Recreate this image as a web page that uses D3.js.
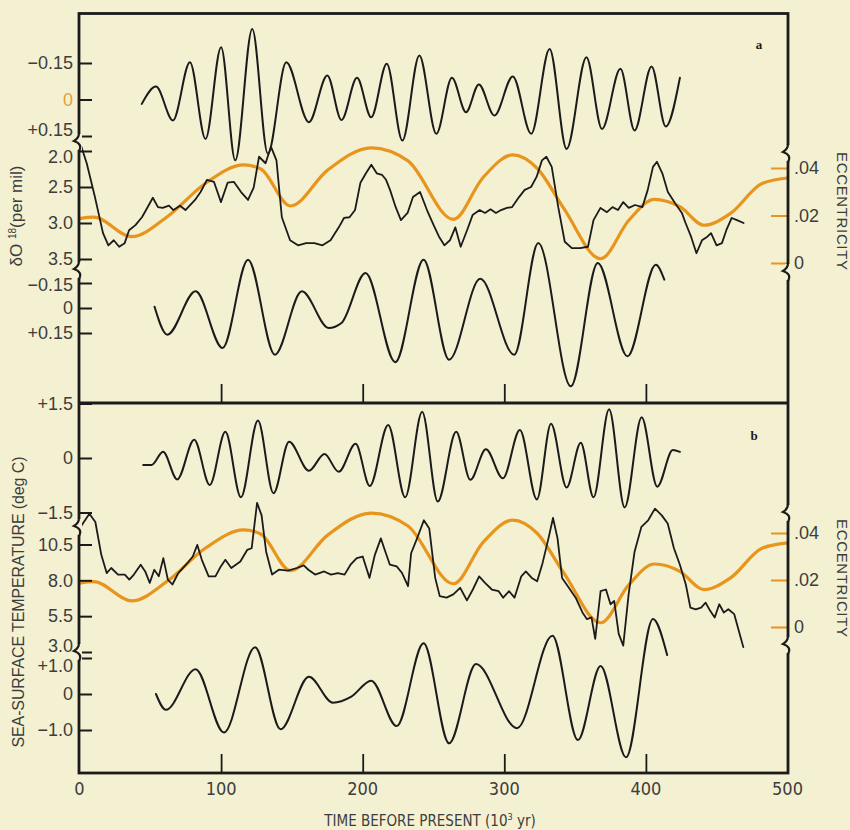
<!DOCTYPE html>
<html>
<head>
<meta charset="utf-8">
<script src="https://cdn.jsdelivr.net/npm/d3@7"></script>
<style>
  body { margin: 0; background: #f4f0d2; }
  svg { display: block; }
</style>
</head>
<body>
<svg id="chart" width="850" height="830"></svg>
<script>
// Time axis (10^3 yr before present)
const timeTicks = [0, 100, 200, 300, 400, 500];

// Panel a: filtered 23k component of d18O (per mil)
const precA = [[44,0.018],[54,-0.053],[66,0.086],[78,-0.153],[89,0.162],[100,-0.215],[110,0.25],[122,-0.29],
  [133,0.223],[146,-0.153],[162,0.093],[175,-0.099],[185,0.084],[196,-0.089],[206,0.073],[217,-0.147],
  [228,0.169],[240,-0.181],[252,0.141],[263,-0.089],[273,0.052],[282,-0.062],[293,0.066],[306,-0.095],
  [319,0.141],[332,-0.208],[344,0.203],[358,-0.174],[369,0.121],[382,-0.126],[392,0.127],[404,-0.136],
  [414,0.111],[424,-0.089]];

// Panel a: d18O record (per mil)
const d18O = [[0,1.86],[5.1,2.17],[10.9,2.64],[16.6,3.14],[20.4,3.31],[24.2,3.24],[28,3.33],[31.9,3.28],
  [35,3.10],[39.5,3.03],[44.1,2.92],[47,2.82],[51.8,2.65],[55.4,2.78],[58.7,2.79],[63.2,2.76],[66.3,2.82],
  [71,2.76],[74.8,2.82],[81.6,2.68],[85.5,2.57],[90,2.40],[95,2.43],[99.9,2.71],[104.6,2.44],[109.1,2.43],
  [114.1,2.57],[119,2.68],[123,2.51],[126.8,2.08],[131.4,2.17],[135.2,1.94],[139.1,2.13],[142.9,2.92],
  [148.7,3.24],[154.3,3.31],[160,3.28],[165.9,3.28],[171.6,3.31],[177.3,3.24],[183.1,3.06],[186.8,2.93],
  [190.7,2.92],[194.6,2.82],[198.4,2.44],[202.3,2.31],[206.1,2.19],[209.9,2.31],[213.6,2.33],[216.5,2.40],
  [219.3,2.54],[223.3,2.78],[227,2.96],[231.7,2.86],[235.5,2.64],[240.5,2.57],[245.4,2.82],[250.1,3.03],
  [253.9,3.19],[257.7,3.31],[261.6,3.24],[265.4,3.06],[269.2,3.33],[273.7,3.10],[277.6,2.89],[282.6,2.82],
  [286.4,2.86],[290.3,2.81],[294.1,2.86],[297.7,2.82],[301.8,2.79],[305.4,2.78],[310.4,2.64],[314.4,2.54],
  [318.9,2.50],[322.8,2.36],[326.6,2.13],[329.7,2.08],[333.5,2.22],[338.1,2.78],[342.7,3.26],[347.7,3.35],
  [353.5,3.35],[359.1,3.33],[363,2.96],[367.9,2.79],[372.5,2.85],[376.4,2.78],[380.3,2.82],[384,2.71],
  [387.9,2.79],[392.3,2.75],[397.5,2.78],[401.3,2.54],[405,2.22],[407.8,2.15],[411.6,2.31],[415.5,2.57],
  [420.4,2.72],[425.4,2.86],[428,3.00],[431.9,3.19],[435.7,3.42],[439.6,3.24],[443.4,3.19],[446,3.14],
  [449.9,3.31],[453.7,3.28],[456.8,3.10],[460.6,2.93],[464.3,2.96],[469,3.00]];

// Panel a: filtered 41k component of d18O
const oblA = [[53,-0.008],[62,0.16],[82,-0.10],[101,0.24],[119,-0.29],[138,0.28],[157,-0.10],[176,0.12],
  [185,0.09],[202,-0.21],[223,0.325],[243,-0.29],[261,0.31],[283,-0.175],[307,0.28],[324,-0.39],
  [347,0.47],[366,-0.27],[387,0.29],[407,-0.26],[413,-0.17]];

// Panel b: filtered 23k component of sea-surface temperature (deg C)
const precB = [[45,-0.19],[51,-0.19],[59,0.17],[69,-0.59],[81,0.50],[92,-0.74],[103,0.72],[114,-1.08],
  [126,1.03],[137,-0.97],[148,0.45],[162,-0.35],[173,0.11],[183,-0.38],[195,0.39],[205,-0.77],[218,0.91],
  [230,-1.08],[242,1.27],[253,-1.20],[266,0.72],[276,-0.60],[287,0.24],[299,-0.56],[311,0.77],[323,-1.14],
  [333,0.94],[344,-0.81],[354,0.42],[363,-1.08],[374,1.34],[385,-1.36],[397,1.12],[408,-0.79],[419,0.22],
  [424,0.17]];

// Panel b: sea-surface temperature record (deg C)
const sst = [[0,11.62],[7,12.65],[11.2,12.07],[15.4,9.78],[19.2,8.51],[22.4,8.86],[27.2,8.40],[32,8.40],
  [35.2,8.05],[38.4,8.40],[43.2,9.09],[46.4,8.62],[49.6,7.82],[52.8,8.74],[56,8.28],[59.2,9.55],[62.4,8.05],
  [65.6,7.71],[69.8,8.51],[75.2,9.09],[80,9.66],[83.2,10.47],[86.4,9.43],[91.2,8.28],[96,8.28],[99.8,8.97],
  [103,9.43],[107.2,8.86],[113.6,9.31],[118.4,10.12],[121.6,10.24],[125.4,13.41],[128.6,12.53],[131.8,10.0],
  [136,8.40],[140.8,8.74],[147.2,8.67],[153.6,8.86],[158.4,9.04],[161.6,8.74],[166.4,8.40],[172.8,8.62],
  [177.6,8.40],[182.4,8.51],[187.2,8.40],[191.4,9.09],[195.8,9.55],[200,9.66],[204.8,8.17],[208.6,9.78],
  [212.8,10.93],[216,10.0],[219.2,9.09],[224,8.97],[227.8,8.51],[232,7.59],[234.2,9.89],[238.4,10.93],
  [243.2,12.19],[247,11.62],[251.2,8.17],[254.4,6.90],[259.2,6.79],[264,7.02],[268.8,7.48],[273.6,6.60],
  [277.8,7.36],[282.2,8.28],[286.4,7.82],[291.2,7.36],[296,7.24],[299.2,6.79],[303.4,7.24],[307.2,6.79],
  [312,8.28],[315.2,8.62],[319.4,8.17],[323.2,7.93],[327,9.20],[331.2,10.93],[334.4,12.35],[337.6,10.93],
  [340.8,8.17],[345.6,7.48],[350.4,6.79],[355.2,5.76],[358.4,5.29],[361.6,5.41],[364.2,3.91],[368,7.24],
  [371.8,7.36],[375,6.33],[377.6,6.56],[380.8,4.26],[384,3.45],[387.8,7.02],[392,10.0],[396.8,11.73],
  [401.6,12.19],[406.4,13.0],[411.2,12.53],[415.4,11.96],[419.8,10.24],[424,9.09],[428.2,7.71],[431.4,6.10],
  [435.2,5.98],[439,6.10],[442.2,6.44],[445.4,5.87],[448.6,5.41],[451.8,6.33],[455,5.76],[458.2,5.98],
  [462.4,5.64],[465.6,4.49],[468.8,3.34]];

// Panel b: filtered 41k component of sea-surface temperature
const oblB = [[54,0],[61,-0.44],[82,0.69],[102,-1.07],[124,1.30],[142,-0.98],[162,0.48],[179,-0.24],
  [192,-0.07],[206,0.37],[224,-0.89],[243,1.41],[261,-1.37],[280,0.83],[309,-0.95],[334,1.62],[352,-1.28],
  [368,0.78],[386,-1.76],[405,2.08],[415,1.08]];

// Orbital eccentricity (both panels)
const ecc = [[0,0.0187],[10,0.0193],[37,0.0111],[62,0.0195],[89,0.0336],[116,0.0413],[128,0.0396],
  [149,0.024],[175,0.039],[206,0.0485],[232,0.043],[264,0.0184],[285,0.036],[306,0.0455],[323,0.040],
  [342,0.023],[368,0.0018],[388,0.018],[406,0.0268],[424,0.0237],[441,0.0159],[460,0.021],[482,0.0335],
  [500,0.0358]];

// tick values for the left / right axes
const ticksPrecA = [-0.15, 0, 0.15];
const ticksD18O = [2.0, 2.5, 3.0, 3.5];
const ticksOblA = [-0.15, 0, 0.15];
const ticksPrecB = [1.5, 0, -1.5];
const ticksSST = [10.5, 8.0, 5.5, 3.0];
const ticksOblB = [1.0, 0, -1.0];
const ticksEcc = [0, 0.02, 0.04];

const BG = '#f4f0d2';
const ORANGE = '#e8951d';
const INK = '#1b1b1b';
const LABEL = '#3d3d3d';

const svg = d3.select('#chart');
svg.append('rect').attr('width', 850).attr('height', 830).attr('fill', BG);

const L = 79, R = 788, TOP = 13.5, MID = 403, BOT = 773;

const x = d3.scaleLinear().domain([0, 500]).range([79.5, 787.5]);

const yPrecA = d3.scaleLinear([-0.15, 0.15], [63, 136]);
const yD18O = d3.scaleLinear([2.0, 3.5], [151, 259]);
const yOblA = d3.scaleLinear([-0.15, 0.15], [283, 333]);
const yEccA = d3.scaleLinear([0, 0.04], [263, 168]);
const yPrecB = d3.scaleLinear([1.5, -1.5], [403.5, 512.5]);
const ySST = d3.scaleLinear([3.0, 10.5], [652, 544.5]);
const yOblB = d3.scaleLinear([1, -1], [658, 730]);
const yEccB = d3.scaleLinear([0, 0.04], [627, 533]);

// signed labels like the original (+0.15 / −0.15)
const signed = digits => v => v === 0 ? '0' : (v > 0 ? '+' : '\u2212') + Math.abs(v).toFixed(digits);
const plain1 = v => v.toFixed(1);
const eccFmt = v => v === 0 ? '0' : '.' + String(Math.round(v * 100)).padStart(2, '0');

// ---- curves ----
function drawLine(data, yScale, color, width, curve) {
  const line = d3.line()
    .x(d => x(d[0]))
    .y(d => yScale(d[1]))
    .curve(curve);
  svg.append('path')
    .datum(data)
    .attr('d', line)
    .attr('fill', 'none')
    .attr('stroke', color)
    .attr('stroke-width', width)
    .attr('stroke-linejoin', 'round')
    .attr('stroke-linecap', 'round');
}

drawLine(ecc, yEccA, ORANGE, 3.2, d3.curveMonotoneX);
drawLine(ecc, yEccB, ORANGE, 3.2, d3.curveMonotoneX);

drawLine(precA, yPrecA, INK, 2, d3.curveMonotoneX);
drawLine(d18O, yD18O, INK, 1.8, d3.curveLinear);
drawLine(oblA, yOblA, INK, 2, d3.curveMonotoneX);
drawLine(precB, yPrecB, INK, 2, d3.curveMonotoneX);
drawLine(sst, ySST, INK, 1.8, d3.curveLinear);
drawLine(oblB, yOblB, INK, 2, d3.curveMonotoneX);

// ---- left axes ----
// shift: nudges for labels that sit on top of each other at the axis breaks
function leftAxis(scale, values, fmt, shift = {}) {
  const g = svg.append('g')
    .attr('transform', `translate(${L},0)`)
    .call(d3.axisLeft(scale).tickValues(values).tickFormat(fmt).tickSize(-13).tickPadding(6));
  g.select('.domain').remove();
  g.selectAll('.tick line').attr('stroke', INK).attr('stroke-width', 2);
  g.selectAll('.tick text')
    .attr('fill', LABEL)
    .attr('y', d => shift[d] || 0)
    .style('font-family', '"Liberation Sans", Arial, sans-serif')
    .style('font-size', '18px');
  return g;
}

const gPrecA = leftAxis(yPrecA, ticksPrecA, signed(2), {0.15: -6});
gPrecA.selectAll('.tick text').filter(d => d === 0).attr('fill', '#e3a03c');
leftAxis(yD18O, ticksD18O, plain1, {2: 6});
leftAxis(yOblA, ticksOblA, signed(2), {'-0.15': 2});
leftAxis(yPrecB, ticksPrecB, signed(1));
leftAxis(ySST, ticksSST, plain1, {3: -6});
leftAxis(yOblB, ticksOblB, signed(1), {1: 8});

// ---- right axes (eccentricity) ----
function rightAxis(scale) {
  const g = svg.append('g')
    .attr('transform', `translate(${R},0)`)
    .call(d3.axisRight(scale).tickValues(ticksEcc).tickFormat(eccFmt).tickSize(-17).tickPadding(6));
  g.select('.domain').remove();
  g.selectAll('.tick line').attr('stroke', ORANGE).attr('stroke-width', 2);
  g.selectAll('.tick text')
    .attr('fill', LABEL)
    .style('font-family', '"Liberation Sans", Arial, sans-serif')
    .style('font-size', '18px');
}
rightAxis(yEccA);
rightAxis(yEccB);

// ---- time axis ----
const inner = timeTicks.filter(t => t > 0 && t < 500);
[MID, BOT].forEach(yy => {
  const g = svg.append('g')
    .attr('transform', `translate(0,${yy})`)
    .call(d3.axisBottom(x).tickValues(inner).tickFormat('').tickSize(-19));
  g.select('.domain').remove();
  g.selectAll('.tick line').attr('stroke', INK).attr('stroke-width', 1.8);
});

svg.append('g')
  .selectAll('text')
  .data(timeTicks)
  .join('text')
  .attr('x', d => x(d))
  .attr('y', BOT + 22)
  .attr('text-anchor', 'middle')
  .attr('fill', LABEL)
  .style('font-family', '"Liberation Sans Narrow", "DejaVu Sans Condensed", sans-serif')
  .style('font-stretch', 'condensed')
  .style('font-size', '18px')
  .text(d => d);

// ---- frame ----
svg.append('rect')
  .attr('x', L).attr('y', TOP)
  .attr('width', R - L).attr('height', BOT - TOP)
  .attr('fill', 'none').attr('stroke', INK).attr('stroke-width', 2.8);
svg.append('line')
  .attr('x1', L).attr('x2', R).attr('y1', MID).attr('y2', MID)
  .attr('stroke', INK).attr('stroke-width', 2.8);

// axis breaks: small kinks in the vertical axes
function axisBreak(x0, y0) {
  svg.append('rect').attr('x', x0 - 3).attr('y', y0 - 8).attr('width', 6).attr('height', 16).attr('fill', BG);
  svg.append('path')
    .attr('d', `M${x0},${y0 - 9} Q${x0},${y0 - 4} ${x0 - 5},${y0 - 1} Q${x0 + 4},${y0 + 2} ${x0},${y0 + 9}`)
    .attr('fill', 'none').attr('stroke', INK).attr('stroke-width', 2.2);
}
[142, 270, 527, 652].forEach(yy => axisBreak(L, yy));
[153, 272, 513, 645].forEach(yy => axisBreak(R, yy));

// ---- titles ----
const sans = '"Liberation Sans", Arial, sans-serif';

const t1 = svg.append('text')
  .attr('transform', 'translate(22,216) rotate(-90)')
  .attr('text-anchor', 'middle')
  .attr('fill', LABEL)
  .style('font-family', sans)
  .style('font-size', '17px');
t1.append('tspan').text('\u03b4O ');
t1.append('tspan').attr('dy', -6).style('font-size', '10px').text('18');
t1.append('tspan').attr('dy', 6).text('(per mil)');

svg.append('text')
  .attr('transform', 'translate(24,602) rotate(-90)')
  .attr('text-anchor', 'middle')
  .attr('fill', LABEL)
  .style('font-family', sans)
  .style('font-size', '16px')
  .attr('textLength', 291)
  .attr('lengthAdjust', 'spacing')
  .text('SEA-SURFACE TEMPERATURE (deg C)');

[[211], [578]].forEach(([cy]) => {
  svg.append('text')
    .attr('transform', `translate(837,${cy}) rotate(90)`)
    .attr('text-anchor', 'middle')
    .attr('fill', LABEL)
    .style('font-family', sans)
    .style('font-size', '15px')
    .attr('textLength', 118)
    .attr('lengthAdjust', 'spacing')
    .text('ECCENTRICITY');
});

const xt = svg.append('text')
  .attr('x', 430).attr('y', 826)
  .attr('text-anchor', 'middle')
  .attr('fill', LABEL)
  .style('font-family', '"Liberation Sans Narrow", "DejaVu Sans Condensed", sans-serif')
  .style('font-stretch', 'condensed')
  .style('font-size', '15px');
xt.append('tspan').text('TIME BEFORE PRESENT (10');
xt.append('tspan').attr('dy', -6).style('font-size', '9px').text('3');
xt.append('tspan').attr('dy', 6).text(' yr)');

// panel letters
[['a', 759, 49], ['b', 754, 440]].forEach(([s, px, py]) => {
  svg.append('text')
    .attr('x', px).attr('y', py)
    .attr('text-anchor', 'middle')
    .attr('fill', INK)
    .style('font-family', '"Liberation Serif", "DejaVu Serif", serif')
    .style('font-weight', 'bold')
    .style('font-size', '13px')
    .text(s);
});
</script>
</body>
</html>
